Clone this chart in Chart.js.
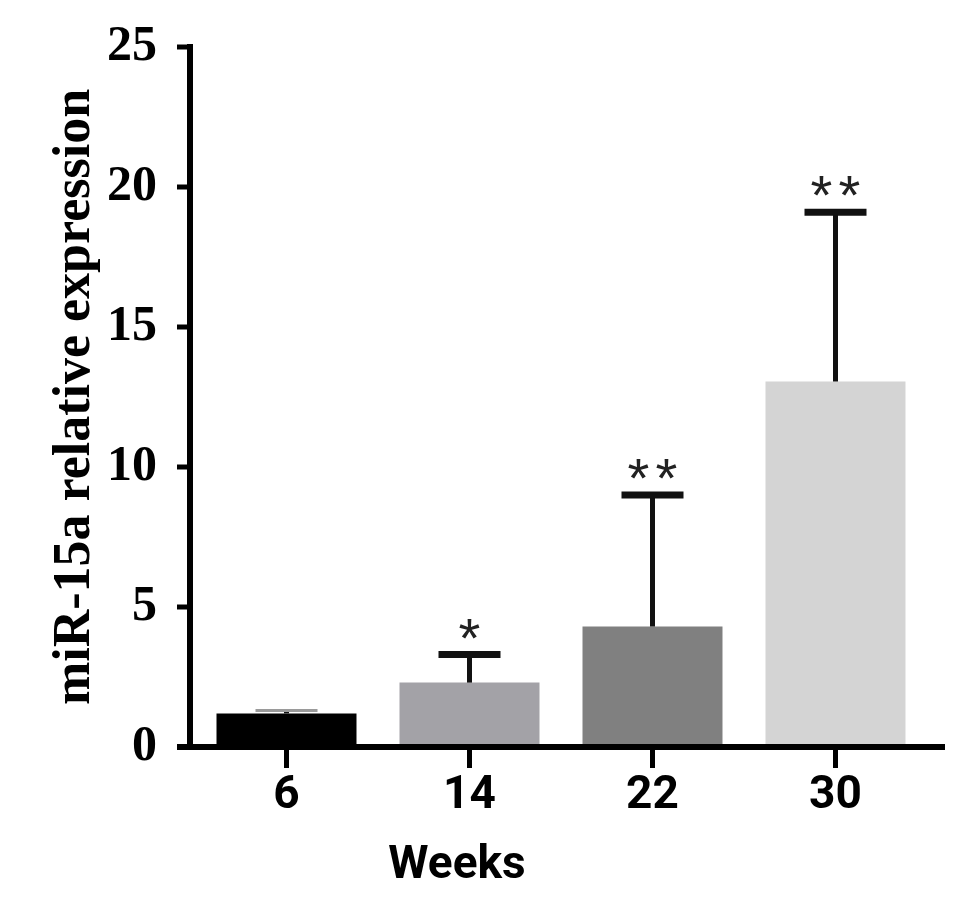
<!DOCTYPE html>
<html>
<head>
<meta charset="utf-8">
<script src="https://cdn.jsdelivr.net/npm/chart.js@4.4.1/dist/chart.umd.min.js"></script>
<style>
  html, body { margin: 0; padding: 0; background: #fff; }
  canvas { display: block; }
</style>
</head>
<body>
<canvas id="chart" width="980" height="903"></canvas>
<script>
// data
const weeks = ['6', '14', '22', '30'];
const means = [1.2, 2.3, 4.3, 13.05];
const errTop = [1.3, 3.3, 9.0, 19.1];
const marks = ['', '*', '**', '**'];
const barColors = ['#000000', '#a3a2a7', '#808080', '#d4d4d4'];
const yTicks = [0, 5, 10, 15, 20, 25];

const SERIF = '"Liberation Serif", "Times New Roman", serif';
const NARROW = '"Liberation Sans Narrow", "Arial Narrow", Roboto, sans-serif';

// axis lines, tick marks, error bars and stars
const extras = {
  id: 'extras',
  afterDatasetsDraw(chart) {
    const { ctx, chartArea, scales } = chart;
    const x = scales.x, y = scales.y;
    const axisX = chartArea.left - 5;
    ctx.save();
    ctx.strokeStyle = '#000';
    ctx.lineCap = 'butt';

    // error bars
    const meta = chart.getDatasetMeta(0);
    meta.data.forEach((bar, i) => {
      const yTop = y.getPixelForValue(errTop[i]);
      const yMean = y.getPixelForValue(means[i]);
      ctx.strokeStyle = '#111';
      ctx.lineWidth = 5;
      ctx.beginPath();
      ctx.moveTo(bar.x, yMean);
      ctx.lineTo(bar.x, yTop);
      ctx.stroke();
      ctx.lineWidth = i === 0 ? 3 : 7;
      ctx.strokeStyle = i === 0 ? '#9a9a9a' : '#111';
      ctx.beginPath();
      ctx.moveTo(bar.x - 31, yTop);
      ctx.lineTo(bar.x + 31, yTop);
      ctx.stroke();

      // significance stars
      if (marks[i]) {
        ctx.fillStyle = '#222';
        ctx.font = '56px "Liberation Sans", Arial, sans-serif';
        ctx.textAlign = 'center';
        ctx.textBaseline = 'alphabetic';
        const m = ctx.measureText('*');
        const off = (m.actualBoundingBoxDescent - m.actualBoundingBoxAscent) / 2;
        const n = marks[i].length;
        for (let k = 0; k < n; k++) {
          const cx = bar.x + (k - (n - 1) / 2) * 28;
          ctx.fillText('*', cx, yTop - 26 - off);
        }
      }
    });

    ctx.strokeStyle = '#000';
    ctx.lineWidth = 6;
    // y axis
    ctx.beginPath();
    ctx.moveTo(axisX, y.getPixelForValue(25) - 3);
    ctx.lineTo(axisX, chartArea.bottom + 3);
    ctx.stroke();
    // x axis
    ctx.beginPath();
    ctx.moveTo(axisX - 13, chartArea.bottom);
    ctx.lineTo(chartArea.right + 18, chartArea.bottom);
    ctx.stroke();
    // y ticks
    ctx.lineWidth = 5;
    yTicks.forEach(v => {
      const py = y.getPixelForValue(v);
      ctx.beginPath();
      ctx.moveTo(axisX - 13, py);
      ctx.lineTo(axisX, py);
      ctx.stroke();
    });
    // x ticks
    weeks.forEach((w, i) => {
      const px = x.getPixelForValue(i);
      ctx.beginPath();
      ctx.moveTo(px, chartArea.bottom);
      ctx.lineTo(px, chartArea.bottom + 21);
      ctx.stroke();
    });

    // x axis title, sits left of centre in the original
    ctx.fillStyle = '#000';
    ctx.font = 'bold 46px ' + NARROW;
    ctx.textAlign = 'center';
    ctx.textBaseline = 'middle';
    ctx.fillText('Weeks', 457, 866);
    ctx.restore();
  }
};

new Chart(document.getElementById('chart'), {
  type: 'bar',
  data: {
    labels: weeks,
    datasets: [{
      data: means,
      backgroundColor: barColors,
      borderWidth: 0,
      barPercentage: 0.765,
      categoryPercentage: 1
    }]
  },
  options: {
    responsive: false,
    animation: false,
    layout: { padding: { top: 47, right: 53, bottom: 0, left: 0 } },
    plugins: {
      legend: { display: false },
      tooltip: { enabled: false }
    },
    scales: {
      x: {
        grid: { display: false, drawTicks: false },
        border: { display: false },
        ticks: {
          color: '#000',
          padding: 22,
          font: { family: NARROW, size: 46, weight: 'bold' }
        },
        afterFit: s => { s.height = 156; }
      },
      y: {
        min: 0,
        max: 25,
        afterBuildTicks: s => { s.ticks = yTicks.map(v => ({ value: v })); },
        grid: { display: false, drawTicks: false },
        border: { display: false },
        ticks: {
          color: '#000',
          padding: 38,
          font: { family: SERIF, size: 50, weight: 'bold' }
        },
        title: {
          display: true,
          text: 'miR-15a relative expression',
          color: '#000',
          padding: { top: 44, bottom: 0 },
          font: { family: SERIF, size: 52, weight: 'bold' }
        },
        afterFit: s => {
          s.width = 195;
          s.paddingTop = 0;
          s.paddingBottom = 0;
        }
      }
    }
  },
  plugins: [extras]
});
</script>
</body>
</html>
